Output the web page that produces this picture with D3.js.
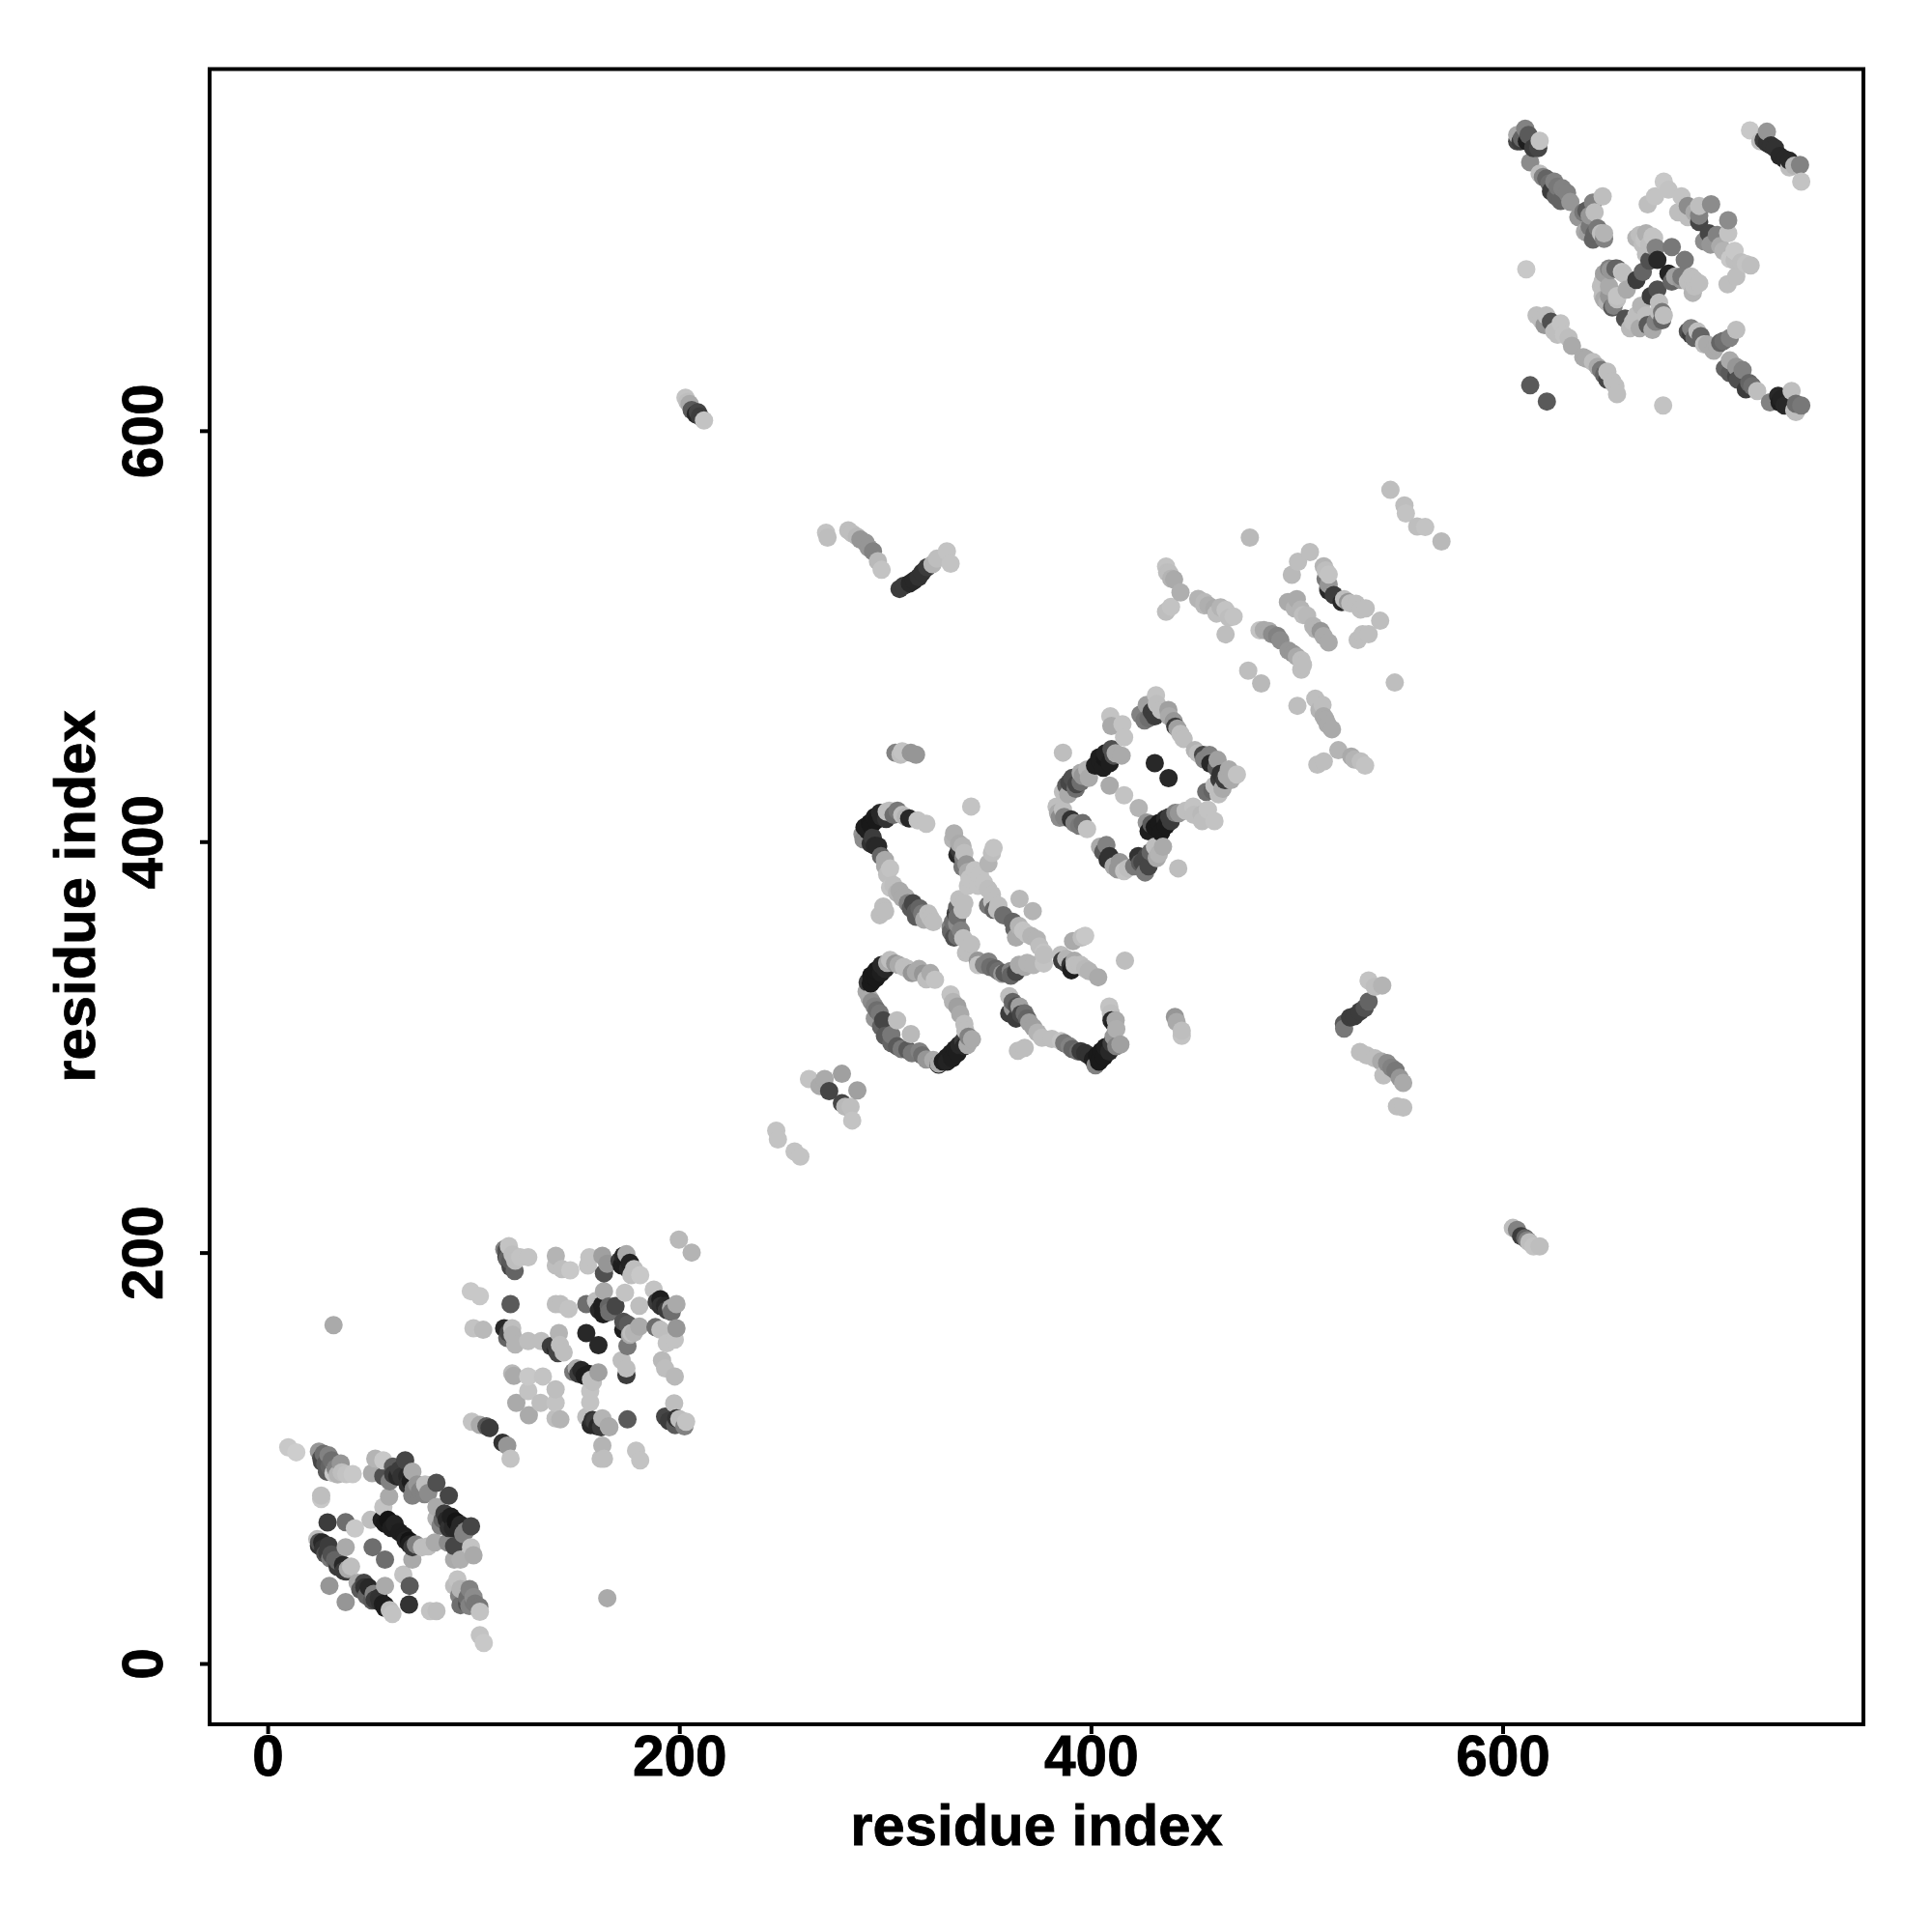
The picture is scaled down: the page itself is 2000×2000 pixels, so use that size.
<!DOCTYPE html>
<html><head><meta charset="utf-8">
<script src="https://cdn.jsdelivr.net/npm/d3@7"></script>
<style>html,body{margin:0;padding:0;background:#fff}svg{display:block}</style>
</head><body><svg id="c" width="2000" height="2000"></svg>
<script>
// each contact: [residue i, residue j, grey level]
const helixPairA=[[10,105.2,200],[13.9,102.8,205],[24.9,103.1,150],[27.2,102,110],[29.6,101.3,130],[26.4,98.1,70],[31.1,98.9,110],[28.8,93.4,90],[32,92.6,200],[35.5,97.3,150],[38.2,92.2,195],[41.3,92.2,200],[52.3,99.7,180],[56.2,98.9,200],[50.7,92.6,170],[56.2,91.1,80],[59.3,88.7,130],[60.9,95.8,90],[66.8,98.9,70],[64,94.2,60],[67.9,91.1,40],[70.3,93.4,170],[69.5,88.7,30],[72.6,87.1,150],[76.5,87.1,190],[82,87.9,80],[76.2,82.4,130],[70.3,81.7,130],[59,81.2,170],[88,81.7,70],[56.2,76.2,195],[82,76.2,170],[82,70.7,180],[85.9,73,60],[89,71.5,30],[91.4,69.1,20],[93.7,67.6,40],[96.1,64.4,130],[98.8,66.8,70],[26,81.7,190],[26,80.1,200],[29.1,68.7,60],[37.9,68.8,110],[42.4,65.7,200],[50,69.9,190],[55.4,69.9,30],[58.5,69.9,20],[61.7,67.9,35],[66.4,62.1,30],[68.7,59.7,20],[70.3,56.6,60],[75,56.6,190],[81.2,58.9,170],[87.5,58.9,140],[90.6,57.1,70],[98.8,56.6,195],[100,52.7,170],[93.7,50.6,175],[90.6,50.6,170],[70.3,50.6,170],[24.1,60.5,190],[26.5,58.9,40],[24.9,57.4,50],[29.6,57.4,60],[28,53.4,80],[30.4,51.1,120],[37.9,56.6,170],[32.7,50.3,100],[36.6,48,40],[38.2,44.8,60],[40.5,47.2,190],[51,56.6,110],[57,50.6,110],[65.9,43.3,195],[69,37.8,90],[30,37.8,150],[37.9,29.9,150],[43.7,39.3,170],[46.8,39.3,70],[49.1,37,40],[51.5,33.9,130],[57,37.8,170],[50.7,30.7,90],[54.6,29.9,50],[57,28.4,30],[59.3,26,190],[60.6,24.1,195],[68.7,28.7,50],[78.9,25.5,195],[82,25.5,190],[92.2,40.9,195],[90.6,37.8,190],[93.7,36.2,180],[98.1,36.2,130],[93.7,28.4,110],[100,32.3,140],[96.9,29.2,80],[103.1,25.2,195],[100.8,29.2,120],[102.8,27.6,120],[103.1,13.8,195],[105,10,200],[165,31.8,170],[32,164.7,170]];
const helixPairAExtra=[[26,100,80],[28,97,90],[30,96,100],[33,95,130],[36,93,190],[34,92,180],[61,92,60],[63,91,40],[65,91,50],[68,87,50],[71,85,130],[74,84,130],[78,83,140],[85,70,100],[87,70,40],[84,67,130],[88,66,50],[90,66,40],[93,65,40],[95,63,130],[57,68,25],[60,66,30],[64,64,30],[67,60,35],[69,58,30],[72,58,130],[78,57,190],[25,59,80],[27,56,50],[29,54,60],[31,53,80],[34,50,100],[34,47,60],[37,45,60],[39,46,170],[45,36,90],[47,37,50],[48,33,100],[52,31,60],[54,32,50],[56,29,30],[57,27,30],[93,33,130],[97,32,110],[98,28,130],[100,30,120]];
const helixPairB=[[115,201.6,130],[117.2,203.1,195],[116.4,196.9,100],[118,193,70],[120.3,196.1,190],[122.7,197.7,195],[126.6,197.7,195],[140,198.4,180],[140,193.7,190],[143,192,190],[147,191.4,200],[155.6,193.7,195],[156.3,197.7,195],[162.6,198.4,160],[165,194.5,150],[163.4,189.9,80],[172.8,198.4,40],[172,193.7,30],[175.1,192.1,40],[174.3,199.2,170],[176.7,189,190],[181,189,200],[199.8,206.3,185],[206,200,180],[98.7,181.2,200],[103.1,178.8,200],[100,163.2,195],[104.7,162.4,185],[118,174.9,90],[140,174.9,190],[142.2,174.9,190],[146.2,172.6,195],[154.8,174.9,110],[159.5,176.4,190],[163.4,181.2,170],[162.5,174.5,30],[165.7,173.7,100],[173.6,180.4,195],[180.6,174.1,190],[187.6,182,195],[190.8,177.3,30],[193.1,174.1,40],[196.3,171,110],[198.6,174.9,170],[172.8,166.3,80],[172.8,162.4,30],[180.6,164,170],[176.7,160.8,190],[174.8,154.5,120],[188.4,163.7,110],[190.8,162.4,190],[198.6,163.2,150],[193.9,155.9,195],[197.8,157.6,195],[114.9,163.2,40],[118.8,163.2,190],[116.4,158.5,100],[120.3,155.3,180],[126.6,156.9,190],[132.9,156.9,190],[137.6,154.5,60],[139.9,153,40],[141.5,160.8,180],[143.8,151.4,190],[154.8,160.8,40],[160.7,154.9,40],[118.8,141.2,185],[119.6,140,170],[126.6,139.7,200],[133.7,139.7,195],[126.6,132.6,195],[139.9,133.4,190],[120.8,126.8,170],[132.6,126.8,190],[139.9,126.8,195],[126.9,120.8,170],[139.9,119.3,190],[142.2,118.8,180],[150.1,143.6,170],[152.4,142.8,40],[148.5,141.9,120],[154,140,30],[160.7,141.7,160],[157.1,138.1,190],[156.7,132.6,195],[156.7,127.1,195],[154.8,120,190],[157.9,118.5,50],[160.3,115.4,40],[162.6,119.3,180],[165.7,115.4,170],[174.8,118.8,90],[172,147.5,190],[174.3,140.4,60],[174.3,143.6,190],[191.6,147.5,185],[193.1,143.6,190],[197.8,139.7,185],[197.5,126.6,190],[193.1,120.1,70],[198.6,119.3,50],[202.5,115.4,130],[203.3,117.7,195],[162.6,106,180],[161.8,99.7,190],[163.4,99.7,190],[179,103.6,195],[181,98.9,195],[99.2,117.7,195],[103.1,116.1,170],[106.3,115.4,90],[107.8,114.6,60],[114.1,107.5,50],[116.4,106,150],[118,99.7,195]];
const helixPairBExtra=[[116,201,80],[116,198,60],[118,196,90],[119,199,190],[120,191,100],[174,196,30],[176,195,35],[178,192,190],[171,196,60],[161,172,40],[163,170,30],[166,171,110],[169,174,70],[175,165,90],[176,160,170],[178,161,180],[150,143,100],[151,141,60],[156,141,30],[158,137,190],[140,155,60],[141,151,70],[142,155,190],[117,161,70],[119,160,180],[157,116,40],[159,118,60],[162,115,60],[166,115,170],[189,176,60],[191,174,50],[194,172,60],[196,173,170],[195,118,60],[198,116,90],[200,119,190]];
const centralLoops=[[305,443.2,130],[308.3,444,195],[307.5,442.3,190],[312.5,443.2,150],[315,442.3,150],[289,403.7,150],[291.5,405.4,30],[293.2,407.9,25],[295.7,410.4,25],[298.2,412.1,40],[300.8,414.6,190],[304.1,413,110],[308.3,413,190],[311.7,411.3,40],[315.8,410.4,195],[320,408.7,195],[294,402,60],[296.6,397.8,40],[299.9,391.1,170],[302.4,386.9,195],[302.4,377.7,195],[299.1,368.4,190],[297.4,364.2,190],[305.8,375.1,180],[308.3,372.6,170],[312.5,367.6,90],[316.7,367.6,100],[315,363.4,90],[320.9,365.1,190],[323.4,360.9,190],[341.8,417.1,195],[333.5,404,175],[337.6,397.8,180],[335.1,393.6,40],[338.5,394.5,190],[337.6,387.7,120],[340.2,385.2,170],[343.5,386.1,195],[352.7,397,195],[351.9,394.5,190],[350.2,389.4,180],[340.2,378.5,195],[345.2,378.5,195],[351.9,374.3,190],[352.7,366.8,100],[354.4,366.8,190],[357.4,364.2,110],[365.3,372.1,185],[371.7,366.2,180],[338.5,370.1,190],[337.6,366.8,190],[334.3,365.1,60],[335.1,363.4,110],[331.8,358.4,130],[336.8,356.7,130],[333.5,353.3,80],[341.8,350,190],[339.3,345.8,190],[362.8,357.5,100],[363.6,353.3,170],[367,356.7,195],[373.7,352.5,180],[377.1,344.9,190],[377.1,340.7,195],[385.4,344.9,190],[388,340.7,60],[390.5,337.4,30],[392.1,339.9,190],[391.3,351.6,170],[395.5,353.3,190],[397.2,354.2,200],[397.2,338.2,185],[403.5,334,170],[416.5,342.1,190],[345.2,339.9,195],[350.2,341.6,130],[353.6,338.2,100],[356.9,335.7,150],[361.1,334.8,100],[363.6,336.5,70],[367.8,339,170],[372,339.9,180],[291.5,331.5,60],[293.2,334.8,25],[295.7,337.4,25],[298.2,339.9,40],[302.4,342.4,190],[304.9,340.7,150],[309.1,339,190],[315,336.5,170],[318.4,335.7,150],[324.2,332.8,195],[292.4,323.9,170],[294.9,319.7,130],[297.4,316.4,120],[299.1,313,70],[305.8,313,190],[299.9,305.5,90],[312.5,306.3,185],[305.8,300.4,90],[310.8,298.7,90],[316.7,297.9,130],[323.4,293.7,170],[331.8,325.6,195],[335.1,319.7,160],[338.5,311.3,190],[330.1,292.9,35],[332.6,294.5,30],[335.1,297,30],[338.5,300.4,40],[342.2,303.8,170],[360.3,324.8,190],[365.3,319.7,160],[360.3,316.4,60],[367.8,316.4,110],[363.6,313.9,60],[372,309.6,160],[376.2,304.6,190],[364.5,298.2,190],[367.8,299.6,190],[385.4,302.9,195],[389.6,300.4,130],[393.8,297.9,110],[397.2,297.1,50],[402.2,291.2,130],[403.9,292.9,25],[406.4,295.4,25],[408.9,297.9,40],[412.3,300.4,130],[408.9,319.7,195],[409.7,316.4,190],[411.4,311.3,30],[412.3,308.8,175],[414.3,301.3,160],[440.8,314.7,150],[441.6,312.2,170],[444.1,308,190],[444.1,305.5,195],[263,284.5,195],[268.1,281.1,170],[270.6,284.5,170],[272.8,278.6,70],[279,287,160],[286.5,278.9,160],[279,272.7,70],[280.6,271,185],[283.2,271,190],[284,264.3,195],[247.1,259.3,195],[247.9,255.1,195],[256,249.2,195],[258.8,246.7,195]];
const centralLoopsExtra=[[293,331,25],[295.5,333.5,25],[298,336,30],[300,338,40],[301,341,170],[306.5,340,170],[311,338,190],[313,336,150],[316.5,338,170],[320,333,190],[322,336,170],[291,327,170],[293.5,322,140],[296,318,110],[295,314,150],[298,310,100],[303,306,120],[303,302,100],[308,299,120],[313,297,120],[318,296,110],[320,294,150],[326,292,170],[333,322,180],[336.5,316,170],[339,308,190],[340.5,305,130],[326,291.5,30],[328,293,30],[330,295,30],[332,297,30],[334,299,30],[336,301,40],[338,303,60],[340,301,170],[290,407,30],[292.5,409,25],[295,412,30],[297.5,414,40],[289.5,401,140],[293,399,50],[295,398,40],[298,393,100],[300,388,170],[301,384,190],[300.5,411,50],[302,415,190],[306,415,120],[310,412,180],[304,379,190],[307,376,170],[310,373,170],[311,370,130],[313.5,370,70],[315,366,90],[318,365,120],[319,362,170],[322,363,190],[300,366,190],[333,401,180],[336,399,170],[336,396,60],[338,392,130],[339.5,389,150],[346,384,195],[341,382,195],[348,380,195],[350,377,190],[352,371,190],[350,369,120],[355,369,190],[362,361,100],[365,359,180],[369,355,195],[371,354,180],[375,349,190],[377,346,195],[336,372,190],[335,368,100],[333,361,110],[335,360,140],[332,356,100],[335,354,110],[338,353,190],[340,347,190],[345,342,150],[348,340,130],[351,339,110],[355,337,110],[358,336,90],[361,337,130],[365,340,170],[369,341,180],[362,322,100],[364,320,80],[362,319,150],[366,316,70],[369,314,100],[370,312,160],[374,307,180],[381,304,190],[387,302,120],[391,299,100],[395,298,60],[399,296,50],[401,294,30],[403,296,25],[405,298,25],[407,300,30],[410,302,60],[411,305,150],[410,313,40],[412,313,170],[386,342,60],[388,343,180],[392,342,170],[390,340,50],[395,340,190],[399,337,180]];
const squareLoop=[[386.4,443.3,190],[409.4,461,195],[409.9,456.3,170],[415.3,457.1,195],[416.1,450.8,195],[404.4,439,30],[406.8,440.6,25],[409.1,438.2,30],[411,441.9,80],[414.9,441.9,170],[424,461.8,130],[427.1,466.5,160],[429.5,463.3,60],[431.6,471.2,195],[437.6,464.1,160],[440.2,458.6,150],[443.5,452.4,190],[431,438.2,40],[437.7,430.9,40],[450.5,444.5,180],[454.5,442.2,70],[457.6,442.2,130],[461.5,439.8,160],[467,435.1,170],[470.9,432.7,195],[462.4,430.4,60],[456,424.2,110],[460,427.3,190],[463.9,425.7,170],[398.2,435.1,180],[395,433.5,170],[389.5,428.8,70],[388,427.3,90],[392.6,425.7,110],[386.4,424.2,190],[383.3,417.1,190],[386.4,415.5,190],[384.8,411.6,140],[390.3,410.8,50],[394.3,407.7,120],[398.1,406.1,195],[409.1,427.3,170],[416.1,422.6,195],[423.2,416.3,180],[427.1,409.3,150],[429.4,408.5,90],[434.1,404.5,25],[436.4,407.7,25],[438.8,410,60],[442.7,413.9,150],[449.7,417.1,195],[453.7,413.2,185],[456.8,415.5,195],[460,410,195],[407.5,398.3,130],[404.4,397.5,170],[408.1,391.2,50],[413,386.5,150],[416.1,385.7,195],[423.9,389.7,90],[427,392.8,70],[426.3,385,120],[431.1,397.5,190],[435,397.5,170],[442.4,387,190]];
const squareLoopExtra=[[402,437,30],[404,441,30],[407,443,35],[410,445,80],[412,443,170],[406,436,30],[391,431,80],[393,428,70],[396,432,150],[399,431,170],[395,429,110],[389,423,170],[384,414,170],[387,412,130],[392,409,130],[396,409,110],[426,459,120],[428,460,110],[431,461,60],[432,467,190],[434,464,190],[438,461,170],[441,456,60],[442,455,160],[445,450,190],[452,443,190],[455,440,130],[458,438,40],[461,436,90],[463,433,50],[465,430,60],[466,432,170],[468,430,170],[459,425,100],[462,423,190],[428,405,30],[431,407,25],[433,409,25],[436,411,40],[438,412,60],[441,414,130],[446,415,190],[450,413,190],[454,410,190],[406,395,90],[409,393,50],[411,388,170],[414,390,150],[418,387,190],[421,388,120],[423,393,50],[425,390,70],[428,388,70],[429,395,100],[432,392,170],[433,394,180]];
const upperMiddle=[[436.5,533.9,195],[438,530.7,190],[440.4,527.6,170],[443.5,521.3,175],[436.5,511.9,190],[438.9,514.3,195],[452.1,518.1,180],[455.2,516.6,185],[460,513.5,170],[465.4,512.7,195],[469.3,509.6,195],[465.4,500.9,190],[477.2,548,185],[506.4,540.9,190],[500.6,536.2,190],[497.6,529.9,185],[515.5,522.1,40],[513.1,534,180],[515.5,530,195],[515.5,525.2,150],[521.8,516.6,40],[524.9,516.6,150],[528.8,515.8,190],[533.5,513.5,190],[540.5,507.5,190],[534.9,501,190],[529.6,498.1,190],[495.7,516.6,170],[499,513.5,180],[503,510.3,190],[509.2,503.3,180],[511.6,502.5,150],[515.5,497,170],[481.9,502.9,195],[486.5,502.5,170],[490.5,500.1,130],[498.2,491.5,150],[502.2,488.4,190],[502.2,483.7,190],[476.4,483.2,190],[482.7,477,185],[547.6,477.4,190],[500.3,466.1,190],[509,469.6,190],[512.5,466.5,190],[514,459.4,170],[517.1,454.7,170],[520.2,444.5,180],[513.1,439,190],[510,437.5,190],[526.5,441.4,170],[531.1,439,190],[533.2,437,195],[545.5,571.2,190],[552.3,563.6,190],[553,559.7,195],[558.5,553.4,190],[562.4,553.1,195],[570.3,546.1,185]];
const upperMiddleExtra=[[437,531,190],[439,528,180],[455,515,185],[457,515,175],[461,511,190],[463,514,180],[467,509,190],[500,518,170],[502,513,180],[505,510,185],[508,505,180],[513,500,170],[484,503,170],[488,501,140],[492,498,140],[496,493,150],[500,490,170],[503,486,190],[514,532,190],[514,528,120],[515,523,160],[518,520,60],[523,518,190],[526,516,190],[531,513,190],[532,501,190],[511,464,180],[513,461,170],[515,457,170],[528,440,180]];
const offDiagonal=[[271.3,550.3,195],[272,548,190],[282.1,551.5,190],[284,550,190],[286.3,548.5,185],[288,547,150],[290.5,545.5,150],[292,543,150],[294.1,541.3,130],[296.5,536.5,185],[298.3,532.3,195],[307,523,60],[309,524.5,60],[312,525.7,40],[314,527,40],[316.3,528.7,50],[318,531,50],[320.4,533.5,60],[323,535,180],[325.2,537.7,190],[330,541.3,195],[331.8,535.3,195],[522.9,311.4,90],[523,309,120],[525.9,314.4,60],[528,315,60],[530.7,317.4,60],[533,319,80],[534.9,322.2,100],[537.9,329.4,190],[541.5,330,180],[534.9,332.4,195],[530.7,297.6,190],[534,296,190],[537.9,294.6,190],[541,293,170],[543.9,292.2,140],[546,290,130],[548,288.6,120],[550,285,150],[551.7,282.6,170],[542.1,286.2,190],[548.7,271.2,190],[551.7,270.6,190],[203,616,195],[204,614,190],[205,613,170],[206,610,90],[208,608,40],[209,609,70],[210,607,60],[212,605,195],[605,212,190],[607,211,130],[609,208,60],[611,207,100],[612,206,130],[613,205,190],[615,203,195],[618,203,190]];
const topCluster=[[607.1,743.9,170],[611,747,130],[608.7,740.8,60],[611.8,740.8,30],[614.9,737.6,60],[618,741.1,195],[613.4,730.6,140],[618,725.1,190],[621.2,722.7,100],[625.1,721.2,130],[623.5,716.5,60],[629,718,130],[628.2,711.8,100],[632.9,711.3,150],[636.8,703.9,150],[640.7,707.1,90],[643.9,711,130],[648.6,714.1,190],[641.5,696.1,160],[644.7,696.1,100],[647.8,696.1,190],[649.3,693.4,130],[611.5,678.6,200],[678.3,721.2,200],[680.6,717.3,195],[674.1,714.1,195],[670.5,710.2,190],[686.9,714.1,195],[690,709.4,140],[695.5,709.4,190],[701.3,710.2,140],[685.3,706.3,190],[690,703.9,190],[695.5,704.7,130],[695.5,701.6,70],[709.6,702.4,140],[709.6,696.1,195],[700.2,696.1,70],[704.1,695.3,130],[701,690.6,150],[705.7,689.8,170],[712.7,687.5,200],[710.4,683.6,200],[715.9,682,190],[720.5,680.4,190],[713.5,675,190],[709.3,671.3,190],[665,693.8,180],[669.7,696.1,175],[668.1,690.6,190],[673.6,693.8,195],[674.4,689,130],[682.2,689.4,120],[688.5,683.1,120],[671.3,682.8,80],[675.2,683.1,40],[680.6,676.5,35],[668.1,677.3,100],[665,673.4,60],[651.7,678.9,130],[654.8,678.9,100],[649.3,675,190],[658,677.3,195],[660.3,668.7,170],[655.6,665.5,195],[647.8,670.2,190],[649.3,664,170],[653.3,660,90],[651.7,665.5,150],[682.2,672.6,100],[686.9,673.4,150],[691.6,675,190],[695.5,671.8,190],[692.4,667.1,180],[675.2,668.7,80],[672,665.5,60],[667.3,660.8,180],[676,662.4,190],[677.5,653.8,100],[678.3,656.1,190],[665,656.1,190],[659.5,654.6,80],[661.9,649.9,185],[666.6,649.9,170],[670.5,651.4,90],[672.8,649.1,170],[616.5,656.1,190],[621.2,656.1,190],[620.4,651.4,150],[623.5,653,80],[628.2,652.2,195],[626.7,646.7,190],[632.1,645.2,190],[633.7,641.3,170],[640.7,635,170],[643.9,633.4,190],[647.8,629.5,120],[650.9,628.7,190],[650.9,624.8,70],[654.8,621.7,190],[655.6,617.8,190],[613.4,622.1,90],[621.5,614.2,90],[678,612.3,195],[691.6,646.7,60],[691.6,649.9,130],[694.7,648.3,190],[696.3,646,100],[697.9,642,190],[702.5,638.9,170],[705.7,642.8,100],[710.4,645.2,130],[713.5,649.1,190],[710.4,634.2,170],[710.4,628,90],[716.6,629.5,130],[714.3,624.8,80],[719.8,623.2,100],[718.2,620.1,60],[723.7,619.3,190],[729.9,613.8,130],[735.4,615.4,35],[737,612.3,40],[740.4,619.3,190],[741.7,609.9,190],[745.1,612.3,120],[720.2,746.2,200],[725.2,740.8,190],[728.4,745.5,150],[730.4,738.9,50],[737,732.1,40],[739.3,728.2,190],[744.5,729.3,130],[745.1,721.2,195]];
const topClusterExtra=[[609.4,742.3,100],[612.6,743.9,90],[617.3,737.6,70],[619.6,723.5,130],[622.7,720.4,110],[626.7,718.8,120],[625.9,714.1,100],[631.3,715.7,130],[639.2,706.3,120],[642.3,704.7,150],[644.7,706.3,190],[640,696.9,170],[642.3,699.2,120],[646.2,698.5,120],[643.9,693,100],[649.3,696.1,180],[649.3,676.5,160],[652.5,678.1,150],[655.6,678.9,100],[658.7,676.5,190],[648.6,672.6,190],[651.7,670.2,170],[648.6,665.5,190],[650.9,662.4,180],[654,660.8,130],[655.6,664,190],[666.6,695.3,190],[668.9,693,195],[671.3,690.6,190],[672.8,694.5,195],[669.7,685.9,190],[683.8,675,160],[686.9,675,120],[690,672.6,190],[693.2,670.2,190],[693.2,673.4,190],[675.9,657.7,190],[674.4,653,130],[677.5,657.7,120],[669.7,656.1,190],[663.4,653,190],[693.2,706.3,170],[697.9,692.2,140],[704.1,691.4,150],[707.3,687.5,180],[712.7,682.8,190],[718.2,681.2,195],[618.8,653.8,190],[625.1,648.3,190],[629.8,646.7,195],[639.2,635.8,170],[646.2,631.1,170],[649.3,627.2,100],[653.3,624,190],[690,648.3,80],[693.2,645.2,100],[699.4,642,170],[704.1,641.3,170],[707.3,643.6,110],[708,630.3,100],[713.5,631.1,150],[713.5,626.4,70],[721.3,621.7,110],[733.9,617,40],[734.6,613.8,30],[738.5,613.1,40],[742.5,613.1,110],[742.5,609.1,190],[726.8,741.5,60],[728.4,740,50],[732.3,737.6,50],[734.6,733.7,40],[739.3,731.4,40],[741.7,729,180],[607.1,740.8,70]];
const tickValues=[0,200,400,600];
const axisTitle="residue index";

const svg=d3.select("#c");
const x=d3.scaleLinear().domain([-28.2,775.3]).range([217,1929]);
const y=d3.scaleLinear().domain([-29.6,776]).range([1785,71.5]);
const font='"Liberation Sans",Arial,sans-serif';
const pts=[...helixPairA,...helixPairAExtra,...helixPairB,...helixPairBExtra,...centralLoops,...centralLoopsExtra,...squareLoop,...squareLoopExtra,...upperMiddle,...upperMiddleExtra,...offDiagonal,...topCluster,...topClusterExtra]
  .sort((a,b)=>d3.ascending(a[0],b[0])||d3.ascending(a[1],b[1]));
svg.append("g").selectAll("circle").data(pts).join("circle")
  .attr("cx",d=>x(d[0])).attr("cy",d=>y(d[1])).attr("r",9.5)
  .attr("fill",d=>d3.rgb(d[2],d[2],d[2]));
svg.append("rect").attr("x",217).attr("y",71.5).attr("width",1712).attr("height",1713.5)
  .attr("fill","none").attr("stroke","#000").attr("stroke-width",4);
const ax=svg.append("g").attr("transform","translate(0,1785)").call(d3.axisBottom(x).tickValues(tickValues).tickSize(10).tickPadding(6).tickFormat(d3.format("d")));
const ay=svg.append("g").attr("transform","translate(217,0)").call(d3.axisLeft(y).tickValues(tickValues).tickSize(10).tickFormat(d3.format("d")));
[ax,ay].forEach(a=>{a.select(".domain").remove();a.selectAll("line").attr("stroke","#000").attr("stroke-width",4);
  a.selectAll("text").attr("fill","#000").attr("stroke","#000").attr("stroke-width",0.8).style("font-family",font).style("font-weight","bold").style("font-size","58.5px");});
ax.selectAll("text").attr("dy",null).attr("y",53);
ay.selectAll("text").attr("x",null).attr("dy",null).attr("text-anchor","middle").attr("transform","translate(-49,0) rotate(-90)");
[[1073,1910,0],[98,928,-90]].forEach(t=>svg.append("text").attr("transform",`translate(${t[0]},${t[1]}) rotate(${t[2]})`).attr("text-anchor","middle").text(axisTitle)
  .attr("stroke","#000").attr("stroke-width",0.8).style("font-family",font).style("font-weight","bold").style("font-size","59.8px"));
</script></body></html>
